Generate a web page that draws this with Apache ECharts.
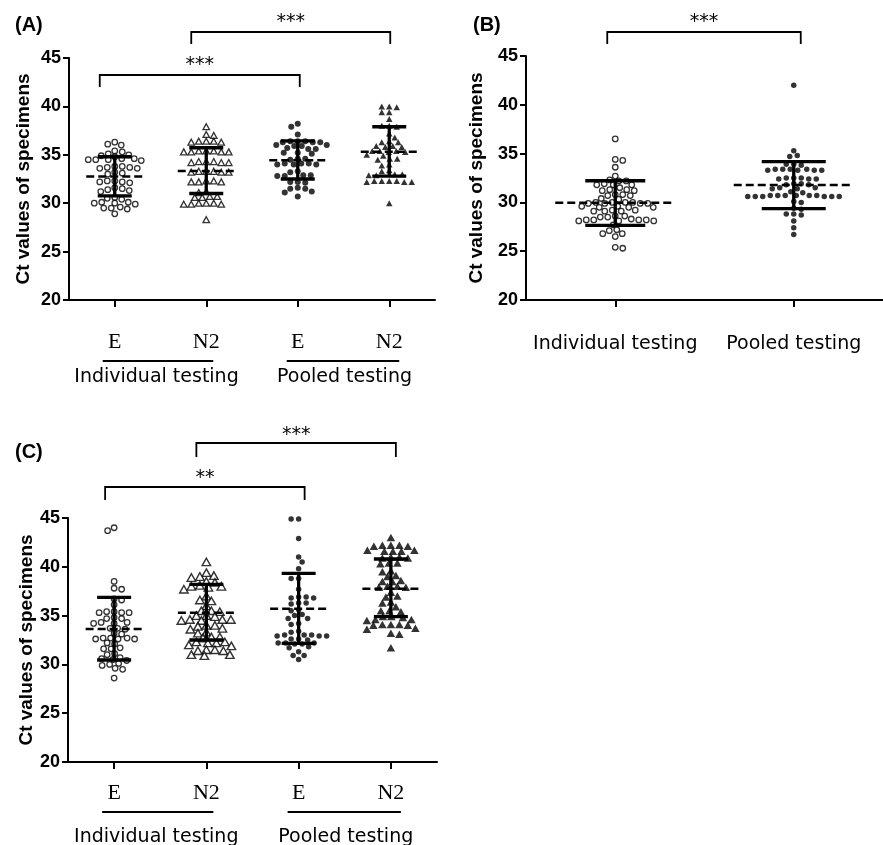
<!DOCTYPE html>
<html><head><meta charset="utf-8">
<script src="https://cdn.jsdelivr.net/npm/echarts/dist/echarts.min.js"></script>
<style>html,body{margin:0;padding:0;background:#fff}#c{width:883px;height:845px}</style>
</head><body><div id="c"></div>
<script>
// ---------------- DATA ----------------
const targetCats = ['E', 'N2', 'E', 'N2'];
const testGroups = ['Individual testing', 'Pooled testing'];
const catsB = ['Individual testing', 'Pooled testing'];
const yTickMin = 20, yTickMax = 45, yTickStep = 5;
const yTitle = 'Ct values of specimens';
const panelLetters = ['(A)', '(B)', '(C)'];

// Panel A
const A_E_ind = [36.3,36.1,36.0,35.4,35.3,35.1,35.0,34.9,34.8,34.6,34.5,34.5,34.4,34.6,34.5,33.8,33.7,33.6,33.7,33.8,33.6,33.1,33.0,33.2,32.3,32.2,32.1,32.2,32.3,31.6,31.5,31.4,31.2,31.3,30.6,30.5,30.4,30.1,30.0,29.9,30.0,30.1,29.6,29.5,29.4,29.5,28.9];
const A_N2_ind = [37.9,37.1,37.0,36.4,36.3,36.4,36.3,36.4,35.4,35.3,35.3,35.4,35.3,35.4,35.3,34.2,34.3,34.2,34.3,34.2,34.3,33.3,33.2,33.3,33.2,33.3,33.2,32.2,32.3,32.2,32.3,32.2,31.2,31.1,30.7,30.6,30.7,30.6,29.9,30.0,29.9,30.0,29.9,30.0,28.3];
const A_E_pool = [38.2,37.9,37.1,36.4,36.3,36.4,36.3,36.4,36.3,36.0,35.9,36.0,35.9,35.6,35.7,35.6,35.2,35.1,35.2,34.6,34.5,34.6,34.0,34.1,34.0,34.1,34.0,34.1,33.3,33.2,32.9,32.8,32.9,32.8,32.2,32.1,32.2,31.5,31.6,31.5,31.2,31.1,30.7];
const A_N2_pool = [40.0,40.0,39.9,39.4,39.4,38.7,38.0,37.9,38.0,37.2,36.8,36.3,36.4,36.3,35.9,35.8,35.9,35.8,35.4,35.3,35.4,35.3,35.4,35.0,34.9,34.6,34.5,34.6,34.0,33.9,33.4,33.3,33.0,32.9,33.0,32.9,32.3,32.2,32.3,32.2,32.3,32.2,32.3,30.0];
const A_center = [32.75, 33.33, 34.43, 35.32];
const A_lower  = [30.75, 31.0, 32.5, 32.8];
const A_upper  = [34.8, 35.73, 36.43, 37.9];

// Panel B
const B_ind = [36.5,34.4,34.3,33.6,32.7,32.2,32.2,32.3,31.8,31.8,31.9,31.8,31.5,31.3,31.2,31.3,31.2,30.8,30.7,30.8,30.7,30.4,30.3,30.0,29.9,30.0,29.9,30.0,29.9,30.0,29.9,29.5,29.6,29.5,29.6,29.5,29.1,29.2,29.1,29.2,29.1,28.6,28.5,28.6,28.5,28.2,28.1,28.2,28.1,28.2,28.1,28.2,28.3,27.7,27.2,27.1,26.8,26.8,26.5,25.4,25.3];
const B_pool = [42.0,35.3,34.8,34.7,33.9,33.8,33.9,33.4,33.3,33.4,33.3,33.4,33.3,33.4,33.3,32.5,32.4,32.5,32.4,32.5,32.4,31.9,31.8,31.9,31.8,31.5,31.4,31.5,31.4,31.1,31.0,30.7,30.6,30.7,30.6,30.7,30.6,30.7,30.6,30.7,30.6,30.7,30.6,30.1,30.0,29.4,29.3,28.8,28.7,28.8,28.1,27.4,26.7];
const B_center = [29.97, 31.78];
const B_lower  = [27.65, 29.36];
const B_upper  = [32.22, 34.17];

// Panel C
const C_E_ind = [44.0,43.7,38.5,37.8,37.7,36.7,36.6,36.1,35.3,35.4,35.3,35.4,35.3,34.7,34.8,34.7,34.3,34.2,34.3,34.2,33.7,33.6,33.7,33.2,33.1,32.6,32.7,32.6,32.7,32.6,32.7,32.2,32.1,31.6,31.7,31.6,31.1,31.0,30.7,30.6,30.5,30.4,30.0,30.1,29.9,29.6,29.5,28.6];
const C_N2_ind = [40.5,39.4,39.1,39.0,38.9,38.5,38.4,38.0,38.1,38.0,37.9,37.7,37.0,36.6,36.5,36.0,35.5,35.4,35.5,35.0,34.9,35.0,34.6,34.5,34.6,34.5,34.6,34.0,33.9,34.0,33.7,33.6,33.2,33.3,32.8,32.7,32.8,32.3,32.2,32.3,32.2,32.0,31.9,31.5,31.4,31.5,31.4,31.0,30.9,31.0];
const C_E_pool = [44.9,44.9,42.9,41.0,40.5,39.8,38.8,38.8,37.7,36.8,36.9,36.8,36.9,36.3,36.3,36.2,35.5,35.6,35.1,35.0,34.7,34.7,34.2,34.1,33.4,33.3,32.9,33.0,32.9,33.0,32.9,33.0,32.6,32.5,32.6,32.2,32.1,32.2,32.1,32.2,31.8,31.7,31.3,30.9,30.9,30.5];
const C_N2_pool = [43.0,42.2,42.1,42.2,42.1,42.2,41.6,41.7,41.6,41.7,41.6,41.0,40.9,41.0,40.9,40.4,40.3,40.4,39.6,39.5,39.1,39.0,38.5,38.6,38.5,38.0,37.9,38.0,37.9,37.4,37.0,36.9,36.4,36.3,35.9,35.5,35.4,35.5,34.9,34.8,34.9,34.6,34.5,34.6,34.1,34.0,34.1,34.0,34.1,33.7,33.6,33.2,33.1,31.7];
const C_center = [33.63, 35.3, 35.71, 37.76];
const C_lower  = [30.45, 32.5, 32.16, 34.89];
const C_upper  = [36.87, 38.2, 39.33, 40.8];

// significance brackets: [fromCategory, toCategory, label]
const A_brackets = [[0, 2, '***'], [1, 3, '***']];
const B_brackets = [[0, 1, '***']];
const C_brackets = [[0, 2, '**'], [1, 3, '***']];

// ---------------- STYLE / LAYOUT ----------------
const SANS = '"Liberation Sans", Arial, sans-serif';
const SERIF = '"Liberation Serif", "Times New Roman", serif';
const DV = '"DejaVu Sans", sans-serif';
const openS = {color:'#fff', borderColor:'#000', borderWidth:1.3};
const fillS = {color:'#000'};

const chart = echarts.init(document.getElementById('c'), null, {width:883, height:845});

function yAxisCfg(gi, gap) {
  return {type:'value', gridIndex:gi, min:yTickMin, max:yTickMax, interval:yTickStep,
    name: yTitle, nameLocation:'middle', nameRotate:90, nameGap:gap,
    nameTextStyle:{fontFamily:SANS, fontWeight:'bold', fontSize:19, color:'#000'},
    axisLine:{show:true, onZero:false, lineStyle:{color:'#000', width:2}},
    axisTick:{show:true, length:6, lineStyle:{color:'#000', width:2}},
    axisLabel:{fontFamily:SANS, fontWeight:'bold', fontSize:18, color:'#000', margin:8},
    splitLine:{show:false}};
}
function catAxisCfg(gi, data, lbl) {
  return {type:'category', gridIndex:gi, data:data, boundaryGap:true,
    axisLine:{show:true, onZero:false, lineStyle:{color:'#000', width:2}},
    axisTick:{show:true, alignWithLabel:true, length:7, lineStyle:{color:'#000', width:2}},
    axisLabel:Object.assign({color:'#000', interval:0, verticalAlign:'middle'}, lbl),
    splitLine:{show:false}};
}
function valAxisCfg(gi, max) {
  return {type:'value', gridIndex:gi, min:-0.5, max:max, show:false, splitLine:{show:false}};
}

function scatter(xi, yi, sym, size, style) {
  return {type:'scatter', xAxisIndex:xi, yAxisIndex:yi, symbol:sym, symbolSize:size,
    itemStyle:style, data:[], silent:true, animation:false, z:2};
}

function statsSeries(xi, yi, center, lower, upper, capW, midW) {
  const data = center.map((c, i) => [i, c, lower[i], upper[i]]);
  return {type:'custom', xAxisIndex:xi, yAxisIndex:yi, data:data, silent:true, z:5, clip:false,
    renderItem: function (params, api) {
      const i = api.value(0);
      const c = api.coord([i, api.value(1)]);
      const lo = api.coord([i, api.value(2)]);
      const hi = api.coord([i, api.value(3)]);
      const cw = capW[params.dataIndex] / 2, mw = midW[params.dataIndex] / 2;
      const st = {stroke:'#000', lineWidth:3.3};
      return {type:'group', children:[
        {type:'line', shape:{x1:c[0], y1:hi[1], x2:c[0], y2:lo[1]}, style:st},
        {type:'line', shape:{x1:c[0]-cw, y1:hi[1], x2:c[0]+cw, y2:hi[1]}, style:st},
        {type:'line', shape:{x1:c[0]-cw, y1:lo[1], x2:c[0]+cw, y2:lo[1]}, style:st},
        {type:'line', shape:{x1:c[0]-mw, y1:c[1], x2:c[0]+mw, y2:c[1]},
          style:{stroke:'#000', lineWidth:2.5, lineDash:[8,4]}}
      ]};
    }};
}

const option = {
  animation:false,
  backgroundColor:'#fff',
  grid:[
    {left:69, top:58, width:366, height:242},
    {left:526, top:56, width:364, height:244},
    {left:68, top:518, width:369, height:244}
  ],
  xAxis:[
    catAxisCfg(0, targetCats, {fontFamily:SERIF, fontSize:22, margin:42}),
    valAxisCfg(0, 3.5),
    catAxisCfg(1, catsB, {fontFamily:DV, fontSize:19, margin:44}),
    valAxisCfg(1, 1.5),
    catAxisCfg(2, targetCats, {fontFamily:SERIF, fontSize:22, margin:31}),
    valAxisCfg(2, 3.5)
  ],
  yAxis:[yAxisCfg(0, 36), yAxisCfg(1, 40), yAxisCfg(2, 28)],
  series:[
    scatter(1, 0, 'circle', 5.5, openS),
    scatter(1, 0, 'triangle', [6.5, 6], openS),
    scatter(1, 0, 'circle', 6, fillS),
    scatter(1, 0, 'triangle', [6.5, 6], fillS),
    scatter(3, 1, 'circle', 5.5, openS),
    scatter(3, 1, 'circle', 5.5, fillS),
    scatter(5, 2, 'circle', 5.5, openS),
    scatter(5, 2, 'triangle', [8.5, 7.5], Object.assign({}, openS, {borderWidth:1.4})),
    scatter(5, 2, 'circle', 5.5, fillS),
    scatter(5, 2, 'triangle', [8.5, 7.5], fillS),
    statsSeries(1, 0, A_center, A_lower, A_upper, [34,34,34,34], [57,57,57,57]),
    statsSeries(3, 1, B_center, B_lower, B_upper, [60,64], [120,120]),
    statsSeries(5, 2, C_center, C_lower, C_upper, [34,34,34,34], [57,57,57,57])
  ]
};
chart.setOption(option);

// beeswarm layout computed in pixel space from the library's scales (elliptic collision)
function swarm(vals, seriesIdx, cat, p) {
  const a = chart.convertToPixel({seriesIndex:seriesIdx}, [0, 20]);
  const b = chart.convertToPixel({seriesIndex:seriesIdx}, [1, 30]);
  const sx = b[0] - a[0], sy = Math.abs(b[1] - a[1]) / 10;
  const order = vals.map((v, i) => i).sort((i, j) => vals[j] - vals[i]);
  const placed = [], out = [];
  const step = 0.5;
  for (let n = 0; n < order.length; n++) {
    const i = order[n];
    const y = vals[i] * sy;
    const sgn = (n % 2) ? -1 : 1;
    let dx = 0;
    for (let k = 0; k < 400; k++) {
      const m = k === 0 ? 0 : (k % 2 === 1 ? (k + 1) / 2 : -k / 2);
      dx = sgn * m * step;
      const hit = placed.some(q => {
        const u = (q[0] - dx) / p.cw, v = (q[1] - y) / p.ch;
        return u * u + v * v < 0.999;
      });
      if (!hit) break;
    }
    placed.push([dx, y]);
    out.push([cat + dx / sx, vals[i]]);
  }
  return out;
}
const pS = {cw:7.3, ch:5.5};
const pT = {cw:8.5, ch:6};
const groups = [
  [0, A_E_ind, 0, pS], [1, A_N2_ind, 1, pS], [2, A_E_pool, 2, pS], [3, A_N2_pool, 3, pS],
  [4, B_ind, 0, pS], [5, B_pool, 1, pS],
  [6, C_E_ind, 0, pS], [7, C_N2_ind, 1, pT], [8, C_E_pool, 2, pS], [9, C_N2_pool, 3, pT]
];
const seriesUpd = [];
for (let s = 0; s < 13; s++) seriesUpd.push({});
groups.forEach(g => { seriesUpd[g[0]] = {data: swarm(g[1], g[0], g[2], g[3])}; });

// annotations
function px(seriesIdx, cat) { return chart.convertToPixel({seriesIndex:seriesIdx}, [cat, 20])[0]; }
const graphics = [];
function letter(t, x, y) {
  graphics.push({type:'text', x:x, y:y, style:{text:t, font:'bold 20px ' + SANS, fill:'#000', verticalAlign:'middle', align:'left'}});
}
letter(panelLetters[0], 15, 25.5);
letter(panelLetters[1], 473, 25);
letter(panelLetters[2], 15, 452);

function bracket(sIdx, br, dl, dr, yLine, yLeg, yText) {
  const x1 = px(sIdx, br[0]) + dl, x2 = px(sIdx, br[1]) + dr;
  graphics.push({type:'polyline', shape:{points:[[x1, yLeg], [x1, yLine], [x2, yLine], [x2, yLeg]]},
    style:{stroke:'#000', lineWidth:1.8, fill:null}});
  graphics.push({type:'text', x:(x1 + x2) / 2, y:yText + 5,
    style:{text:br[2], font:'19px ' + DV, fill:'#000', align:'center', verticalAlign:'middle'}});
}
bracket(0, A_brackets[0], -15, 2, 75, 87, 60);
bracket(0, A_brackets[1], -15, 1, 32, 44, 17);
bracket(4, B_brackets[0], -8, 7, 32, 44, 17);
bracket(6, C_brackets[0], -9, 6, 487, 500, 473);
bracket(6, C_brackets[1], -10, 5, 443, 457, 430);

function groupLabels(sIdx, yLine, yText) {
  const p0 = px(sIdx, 0), p1 = px(sIdx, 1), p2 = px(sIdx, 2), p3 = px(sIdx, 3);
  graphics.push({type:'line', shape:{x1:p0 - 12, y1:yLine, x2:p1 + 7, y2:yLine}, style:{stroke:'#000', lineWidth:2}});
  graphics.push({type:'line', shape:{x1:p2 - 11, y1:yLine, x2:p3 + 10, y2:yLine}, style:{stroke:'#000', lineWidth:2}});
  graphics.push({type:'text', x:(p0 + p1) / 2 - 4, y:yText, style:{text:testGroups[0], font:'19px ' + DV, fill:'#000', align:'center', verticalAlign:'middle'}});
  graphics.push({type:'text', x:(p2 + p3) / 2 + 1, y:yText, style:{text:testGroups[1], font:'19px ' + DV, fill:'#000', align:'center', verticalAlign:'middle'}});
}
groupLabels(0, 361, 377);
groupLabels(6, 812, 837);

chart.setOption({series:seriesUpd, graphic:graphics});
</script>
</body></html>
